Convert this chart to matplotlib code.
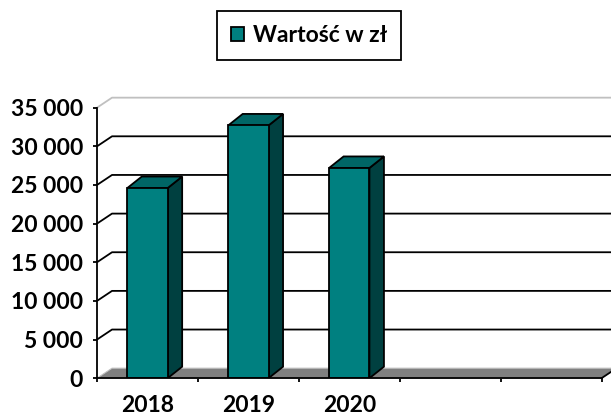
import matplotlib.pyplot as plt
from matplotlib.patches import Polygon

years = ["2018", "2019", "2020"]
values = [24600, 32700, 27200]
n_slots = 5
y_ticks = [0, 5000, 10000, 15000, 20000, 25000, 30000, 35000]
y_labels = ["0", "5 000", "10 000", "15 000", "20 000", "25 000", "30 000", "35 000"]
legend_label = "Wartość w zł"

FRONT = "#008080"
TOP = "#006666"
SIDE = "#004040"
FLOOR = "#808080"


def main():
    plt.rcParams["font.family"] = ["Lato", "DejaVu Sans"]
    plt.rcParams["font.weight"] = "bold"

    fig = plt.figure(figsize=(6.11, 4.16), dpi=100)
    ax = fig.add_axes([0.1588, 0.0909, 0.8412, 0.6808])

    xmax = 5.094
    ymax = 36641
    ax.set_xlim(0, xmax)
    ax.set_ylim(0, ymax)

    # depth offsets of the back wall and of the bars, in data units
    wx, wy = 0.1487, 1294
    bx, by = 0.1437, 1488

    # back wall gridlines
    for v in y_ticks[1:]:
        c = "#c0c0c0" if v == y_ticks[-1] else "black"
        ax.plot([0, wx, xmax + 1], [v, v + wy, v + wy], color=c, lw=1.3,
                solid_capstyle="butt", clip_on=False, zorder=1)

    # floor
    floor = Polygon([(0, 0), (n_slots, 0), (n_slots + wx, wy), (wx, wy)],
                    closed=True, facecolor=FLOOR, edgecolor="#c0c0c0",
                    lw=0.8, zorder=2, clip_on=False)
    ax.add_patch(floor)
    ax.plot([n_slots, n_slots + wx], [0, wy], color="black", lw=1.3,
            clip_on=False, zorder=2)

    # bars
    width = 0.4
    xs = [i + 0.5 for i in range(len(years))]
    bars = ax.bar(xs, values, width=width, color=FRONT, edgecolor="black",
                  lw=1.3, zorder=5, label=legend_label)
    for x, v in zip(xs, values):
        x0, x1 = x - width / 2, x + width / 2
        side = Polygon([(x1, 0), (x1 + bx, by), (x1 + bx, v + by), (x1, v)],
                       closed=True, facecolor=SIDE, edgecolor="black",
                       lw=1.3, zorder=4)
        top = Polygon([(x0, v), (x1, v), (x1 + bx, v + by), (x0 + bx, v + by)],
                      closed=True, facecolor=TOP, edgecolor="black",
                      lw=1.3, zorder=4)
        ax.add_patch(side)
        ax.add_patch(top)

    # front axes
    for s in ["top", "right"]:
        ax.spines[s].set_visible(False)
    ax.spines["left"].set_bounds(0, y_ticks[-1])
    ax.spines["bottom"].set_bounds(0, n_slots)
    ax.spines["left"].set_linewidth(1.3)
    ax.spines["bottom"].set_linewidth(1.3)
    ax.spines["left"].set_zorder(6)
    ax.spines["bottom"].set_zorder(6)

    ax.set_yticks(y_ticks)
    ax.set_yticklabels(y_labels)
    ax.tick_params(axis="y", direction="out", length=3, width=1.3,
                   pad=7, labelsize=16.5)

    ax.set_xticks(range(n_slots + 1))
    ax.set_xticklabels([])
    ax.set_xticks(xs, minor=True)
    ax.set_xticklabels(years, minor=True)
    ax.tick_params(axis="x", which="major", direction="out", length=3,
                   width=1.3)
    ax.tick_params(axis="x", which="minor", length=0, pad=12, labelsize=16.5)

    leg = ax.legend(handles=[bars], loc="center",
                    bbox_to_anchor=(309 / 611, 1 - 35.5 / 416),
                    bbox_transform=fig.transFigure, fancybox=False,
                    edgecolor="black", framealpha=1, fontsize=16.5,
                    handlelength=0.55, handleheight=0.55, handletextpad=0.4,
                    borderpad=0.6)
    leg.get_frame().set_linewidth(1.3)
    leg.get_patches()[0].set_linewidth(1.3)

    fig.savefig("out.png", dpi=100)


if __name__ == "__main__":
    main()
